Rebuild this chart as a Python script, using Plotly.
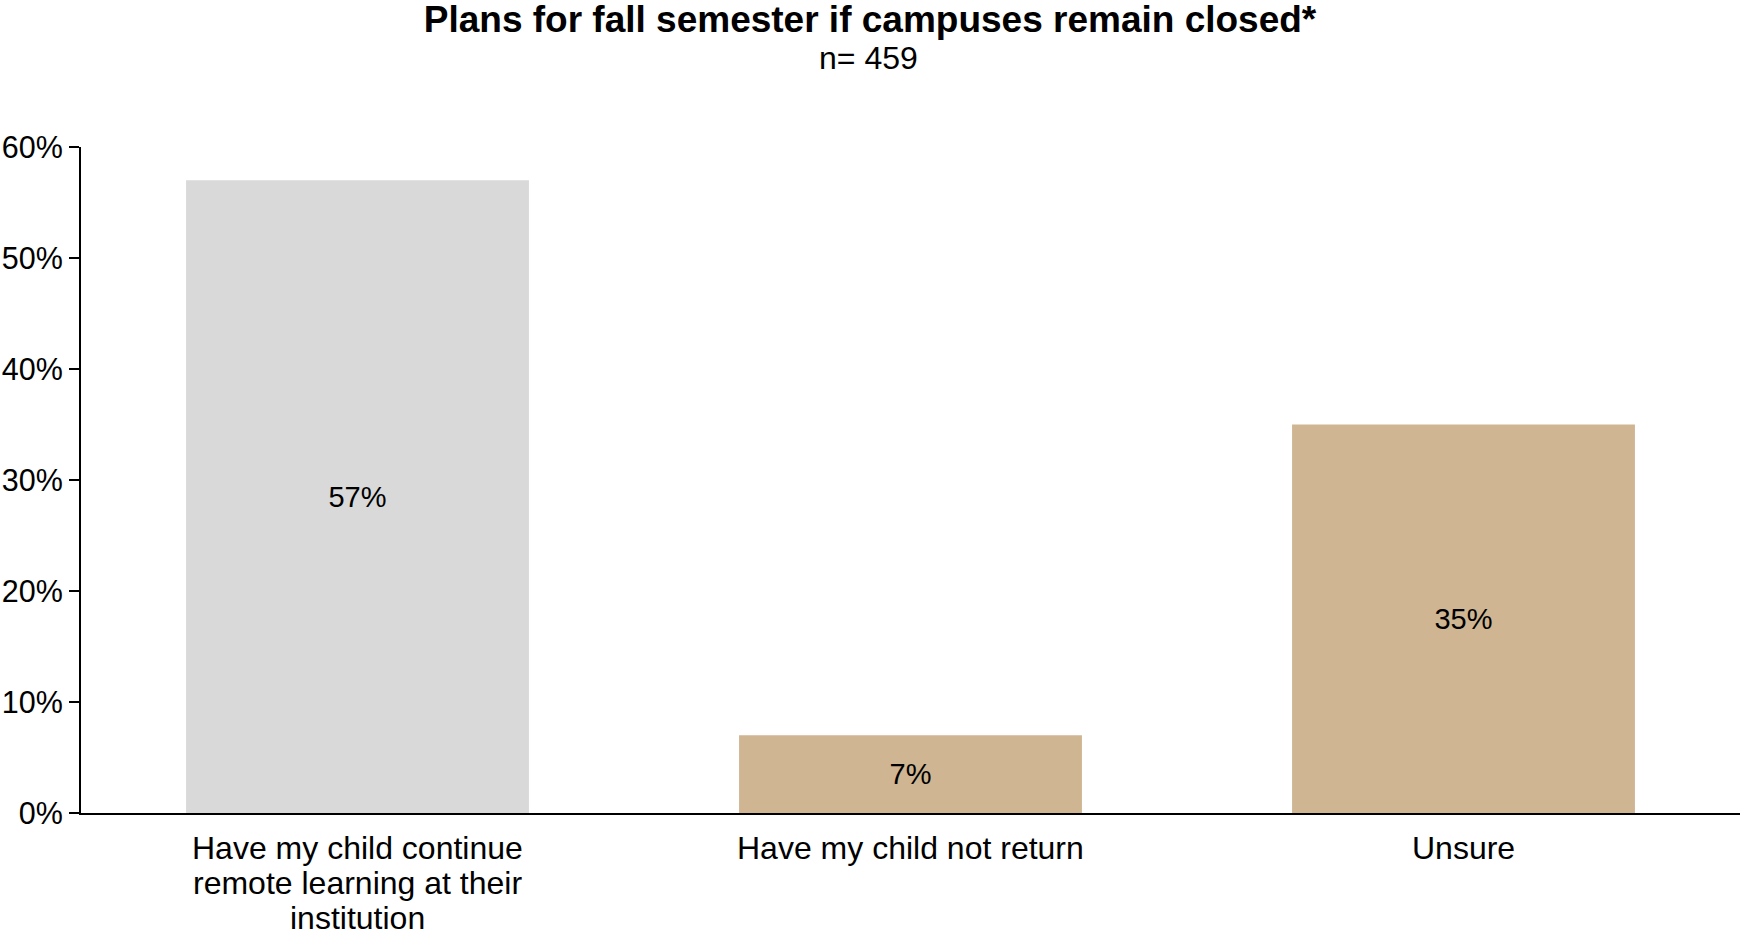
import plotly.graph_objects as go

# Survey responses
categories = ["Remote", "NotReturn", "Unsure"]
category_lines = [
    ["Have my child continue", "remote learning at their", "institution"],
    ["Have my child not return"],
    ["Unsure"],
]
percentages = [57, 7, 35]
bar_colors = ["#d9d9d9", "#cfb592", "#cfb592"]
y_ticks = [0, 10, 20, 30, 40, 50, 60]
y_tick_text = [f"{v}%" for v in y_ticks]

title_text = "Plans for fall semester if campuses remain closed*"
subtitle_text = "n= 459"

FONT = "Liberation Sans, Arial, Helvetica, sans-serif"
W, H = 1740, 937
M_L, M_R, M_T, M_B = 81, 0, 147, 124
plot_w = W - M_L - M_R
plot_h = H - M_T - M_B

fig = go.Figure(
    go.Bar(
        x=categories,
        y=percentages,
        marker=dict(color=bar_colors, line=dict(width=0)),
        text=[f"{v}%" for v in percentages],
        textposition="inside",
        insidetextanchor="middle",
        textangle=0,
        textfont=dict(family=FONT, size=29, color="black"),
        hoverinfo="skip",
    )
)

# Category labels, one annotation per line so the line spacing stays tight
annotations = []
for cat, lines in zip(categories, category_lines):
    for j, line in enumerate(lines):
        annotations.append(
            dict(
                x=cat, y=0, xref="x", yref="y",
                text=line, showarrow=False,
                xanchor="center", yanchor="middle",
                yshift=-(35 + j * 35.0),
                font=dict(family=FONT, size=32, color="black"),
            )
        )

# Sample size line under the title
annotations.append(
    dict(
        x=(868 - M_L) / plot_w, y=(H - M_B - 57.5) / plot_h,
        xref="paper", yref="paper",
        text=subtitle_text, showarrow=False,
        xanchor="center", yanchor="middle",
        font=dict(family=FONT, size=32, color="black"),
    )
)

fig.update_layout(
    width=W, height=H,
    margin=dict(l=M_L, r=M_R, t=M_T, b=M_B, pad=0),
    paper_bgcolor="white", plot_bgcolor="white",
    showlegend=False,
    bargap=0.38,
    font=dict(family=FONT, color="black"),
    title=dict(
        text=f"<b>{title_text}</b>",
        x=0.5, xref="container", xanchor="center",
        y=1 - 19.5 / H, yref="container", yanchor="middle",
        font=dict(family=FONT, size=37, color="black"),
    ),
    xaxis=dict(
        range=[-0.5, 2.5],
        showticklabels=False,
        ticks="",
        showline=True, linecolor="black", linewidth=2,
        showgrid=False, zeroline=False,
        fixedrange=True,
    ),
    yaxis=dict(
        range=[0, 60],
        tickmode="array",
        tickvals=y_ticks,
        ticktext=y_tick_text,
        ticks="outside", ticklen=10, tickwidth=2, tickcolor="black",
        tickfont=dict(family=FONT, size=30.5, color="black"),
        showline=True, linecolor="black", linewidth=2,
        showgrid=False, zeroline=False,
        fixedrange=True,
    ),
    annotations=annotations,
)

fig.write_html("out.html")
